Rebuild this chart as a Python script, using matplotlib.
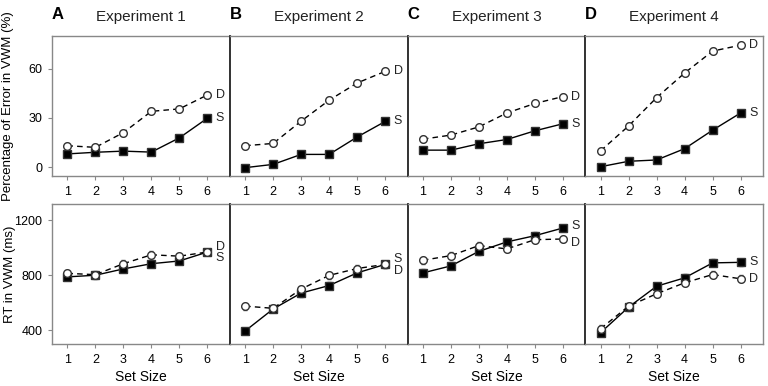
import matplotlib.pyplot as plt
import numpy as np

plt.rcParams["font.family"] = ["Liberation Sans", "DejaVu Sans"]

set_sizes = [1, 2, 3, 4, 5, 6]
experiments = ["Experiment 1", "Experiment 2", "Experiment 3", "Experiment 4"]
letters = ["A", "B", "C", "D"]

# percentage of error in VWM (%)
err_d = [
    [13, 12, 21, 34, 35.5, 44],
    [13, 14.4, 28, 40.8, 51.3, 58.4],
    [17, 19.5, 24.5, 33, 38.8, 43],
    [9.9, 25.1, 42.4, 57.4, 70.8, 74.4],
]
err_s = [
    [8, 9, 9.7, 9.1, 17.8, 29.8],
    [-0.4, 1.6, 7.7, 7.7, 18.3, 27.8],
    [10.3, 10.3, 14.2, 16.8, 22.1, 26.4],
    [0.2, 3.5, 4.3, 11.2, 22.5, 33],
]
err_sem = [1.8, 1.8, 1.8, 1.8, 1.8, 1.8]

# RT in VWM (ms)
rt_d = [
    [815, 805, 885, 950, 940, 970],
    [576, 560, 700, 800, 850, 880],
    [910, 944, 1017, 993, 1060, 1065],
    [412, 576, 666, 746, 806, 775],
]
rt_s = [
    [789, 801, 847, 885, 905, 970],
    [395, 555, 671, 726, 818, 880],
    [818, 869, 975, 1044, 1089, 1145],
    [383, 569, 721, 782, 891, 895],
]
rt_sem = [25, 25, 25, 25, 25, 25]

# label heights for the D / S tags
top_lab_d = [44, 58.4, 43, 74.4]
top_lab_s = [29.8, 27.8, 26.4, 33]
bot_lab_d = [1010, 835, 1036, 770]
bot_lab_s = [927, 922, 1162, 898]

fig = plt.figure(figsize=(7.68, 3.86), dpi=100)
gs_top = fig.add_gridspec(1, 4, left=0.0677, right=0.9935, top=0.9067, bottom=0.544, wspace=0)
gs_bot = fig.add_gridspec(1, 4, left=0.0677, right=0.9935, top=0.4715, bottom=0.1088, wspace=0)

gray = "#888888"


def draw(ax, d, s, sem, ylim, lab_d, lab_s, first):
    ax.errorbar(set_sizes, s, yerr=sem, color="black", ecolor="#555555", lw=1,
                marker="s", ms=5.5, mfc="black", mec="#333333", capsize=1.5, elinewidth=0.8)
    ax.errorbar(set_sizes, d, yerr=sem, color="black", ecolor="#555555", lw=1, ls=(0, (4, 3)),
                marker="o", ms=5.5, mfc="white", mec="#333333", mew=1, capsize=1.5, elinewidth=0.8)
    ax.text(6.3, lab_d, "D", fontsize=9, va="center", ha="left", color="#222222")
    ax.text(6.3, lab_s, "S", fontsize=9, va="center", ha="left", color="#222222")
    ax.set_xlim(0.45, 6.8)
    ax.set_ylim(*ylim)
    ax.set_xticks(set_sizes)
    ax.tick_params(axis="both", labelsize=9, color=gray, length=3, width=0.8, pad=4)
    for sp in ax.spines.values():
        sp.set_color(gray)
        sp.set_linewidth(1)
    if not first:
        ax.spines["left"].set_color("#222222")
        ax.spines["left"].set_linewidth(1.3)
        ax.tick_params(axis="y", left=False, labelleft=False)


for j in range(4):
    ax = fig.add_subplot(gs_top[0, j])
    draw(ax, err_d[j], err_s[j], err_sem, (-5.5, 80), top_lab_d[j], top_lab_s[j], j == 0)
    ax.set_yticks([0, 30, 60])
    ax.set_title(experiments[j], fontsize=11, pad=11, color="#222222")
    ax.text(0.0, 1.1, letters[j], transform=ax.transAxes, fontsize=12, fontweight="bold",
            ha="left", va="bottom")
    if j == 0:
        ax.set_ylabel("Percentage of Error in VWM (%)", fontsize=9.5)
        ax.yaxis.set_label_coords(-0.212, 0.5)

    axb = fig.add_subplot(gs_bot[0, j])
    draw(axb, rt_d[j], rt_s[j], rt_sem, (300, 1320), bot_lab_d[j], bot_lab_s[j], j == 0)
    axb.set_yticks([400, 800, 1200])
    axb.set_xlabel("Set Size", fontsize=10, labelpad=3)
    if j == 0:
        axb.set_ylabel("RT in VWM (ms)", fontsize=9.5)
        axb.yaxis.set_label_coords(-0.2, 0.5)

fig.savefig("out.png", dpi=100)
